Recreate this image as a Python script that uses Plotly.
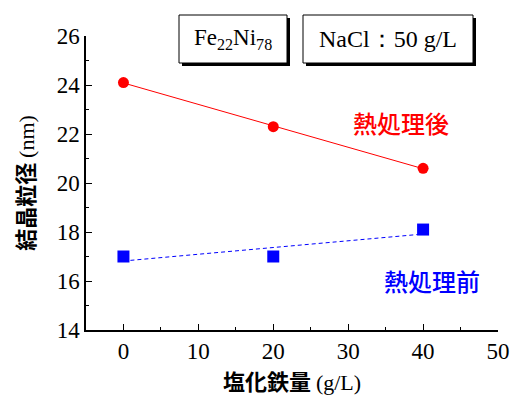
import numpy as np
import plotly.graph_objects as go

# Data
fecl3 = [0, 20, 40]                 # 塩化鉄量 (g/L)
after_heat = [24.1, 22.3, 20.6]     # 熱処理後 (nm)
before_heat = [17.0, 17.0, 18.1]    # 熱処理前 (nm)
x_ticks = [0, 10, 20, 30, 40, 50]
y_ticks = [14, 16, 18, 20, 22, 24, 26]

SERIF = "Liberation Serif, Times New Roman, serif"
CJK = "Noto Sans CJK JP, sans-serif"

W, H = 511, 397
# plot area in page pixels: x 86..498, y 36..330
L, R, T, B = 86, W - 498, 36, H - 330
pw, ph = W - L - R, H - T - B

def px(x):  # page x -> paper
    return (x - L) / pw

def py(y):  # page y -> paper
    return (H - B - y) / ph

fig = go.Figure()

xfit = np.array([min(fecl3), max(fecl3)])
for ys, color, dash in [(after_heat, "#ff0000", "solid"), (before_heat, "#0000ff", "4px,3px")]:
    k, b = np.polyfit(fecl3, ys, 1)
    fig.add_trace(go.Scatter(x=xfit, y=k * xfit + b, mode="lines",
                             line=dict(color=color, width=1, dash=dash),
                             showlegend=False, hoverinfo="skip"))

fig.add_trace(go.Scatter(x=fecl3, y=after_heat, mode="markers",
                         marker=dict(symbol="circle", size=11, color="#ff0000"),
                         showlegend=False))
fig.add_trace(go.Scatter(x=fecl3, y=before_heat, mode="markers",
                         marker=dict(symbol="square", size=12, color="#0000ff"),
                         showlegend=False))

shapes = []
annotations = []
for (x0, x1, label, fs) in [(179, 287, "Fe<sub>22</sub>Ni<sub>78</sub>", 23),
                            (303, 473, "NaCl：50 g/L", 24)]:
    y0, y1 = 15, 63
    shapes.append(dict(type="rect", xref="paper", yref="paper",
                       x0=px(x0 + 3), x1=px(x1 + 3), y0=py(y1 + 3), y1=py(y0 + 3),
                       fillcolor="black", line=dict(width=0), layer="above"))
    shapes.append(dict(type="rect", xref="paper", yref="paper",
                       x0=px(x0), x1=px(x1), y0=py(y1), y1=py(y0),
                       fillcolor="white", line=dict(color="black", width=1), layer="above"))
    annotations.append(dict(xref="paper", yref="paper", x=px((x0 + x1) / 2), y=py((y0 + y1) / 2),
                            text=label, showarrow=False,
                            font=dict(family=SERIF, size=fs, color="black"),
                            xanchor="center", yanchor="middle"))

annotations.append(dict(x=37.0, y=22.45, text="熱処理後", showarrow=False,
                        font=dict(family=CJK, size=24, color="#ff0000", weight=500),
                        xanchor="center", yanchor="middle"))
annotations.append(dict(x=41.2, y=16.04, text="熱処理前", showarrow=False,
                        font=dict(family=CJK, size=24, color="#0000ff", weight=500),
                        xanchor="center", yanchor="middle"))

fig.update_layout(
    width=W, height=H,
    margin=dict(l=L, r=R, t=T, b=B),
    plot_bgcolor="white", paper_bgcolor="white",
    shapes=shapes, annotations=annotations,
    xaxis=dict(range=[-5, 50], tickvals=x_ticks, ticks="inside", ticklen=6,
               tickwidth=1, tickcolor="black", automargin=False,
               minor=dict(dtick=5, tick0=0, ticks="inside", ticklen=3, tickcolor="black"),
               showline=True, linecolor="black", linewidth=1.5, showgrid=False,
               zeroline=False, tickfont=dict(family=SERIF, size=23, color="black"),
               title=dict(text="<b>塩化鉄量</b> <span style='font-family:Liberation Serif'>(g/L)</span>",
                          font=dict(family=CJK, size=22, color="black"), standoff=6)),
    yaxis=dict(range=[14, 26], tickvals=y_ticks, ticks="inside", ticklen=6,
               tickwidth=1, tickcolor="black", automargin=False,
               minor=dict(dtick=1, tick0=14, ticks="inside", ticklen=3, tickcolor="black"),
               showline=True, linecolor="black", linewidth=1.5, showgrid=False,
               zeroline=False, tickfont=dict(family=SERIF, size=23, color="black"),
               title=dict(text="<b>結晶粒径</b> <span style='font-family:Liberation Serif'>(nm)</span>",
                          font=dict(family=CJK, size=22, color="black"), standoff=16)),
)

fig.write_html("out.html", config={"displayModeBar": False},
               post_script="document.body.style.margin='0';document.body.style.overflow='hidden';")
